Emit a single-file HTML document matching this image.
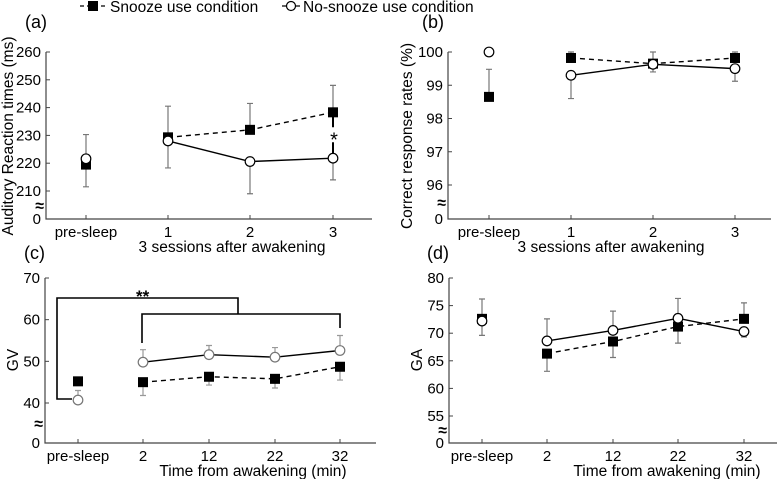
<!DOCTYPE html>
<html><head><meta charset="utf-8">
<style>
body{margin:0;background:#fff;}
svg{display:block;font-family:"Liberation Sans",Arial,sans-serif;}
</style></head>
<body>
<svg id="chart" width="778" height="479" viewBox="0 0 778 479" xmlns="http://www.w3.org/2000/svg">
<g>
  <line x1="80" y1="6" x2="106" y2="6" stroke="#000" stroke-width="1.3" stroke-dasharray="4,3"/>
  <rect x="88" y="1" width="10" height="10" fill="#000"/>
  <text x="110" y="12" font-size="15.5">Snooze use condition</text>
  <line x1="282" y1="6" x2="300" y2="6" stroke="#000" stroke-width="1.3"/>
  <circle cx="291" cy="6" r="4.5" fill="#fff" stroke="#000" stroke-width="1.2"/>
  <text x="303" y="12" font-size="15.5">No-snooze use condition</text>
</g>
</svg>
<script>
// ---- data ----
const catsAB = ['pre-sleep','1','2','3'];
const catsCD = ['pre-sleep','2','12','22','32'];
const aSnooze = [219.5,229.3,232.0,238.3];
const aSnoozeErr = [8,11.2,9.5,9.7];
const aOpen = [221.6,228.0,220.6,221.8];
const aOpenErr = [8.7,9.7,11.6,7.8];
const aTicks = [210,220,230,240,250,260];
const bSnooze = [98.65,99.82,99.65,99.82];
const bSnoozeErr = [0.83,0.18,0.25,0.18];
const bOpen = [100,99.3,99.63,99.5];
const bOpenErr = [0,0.7,0.37,0.38];
const bTicks = [96,97,98,99,100];
const cSnooze = [45.2,45.0,46.3,45.8,48.7];
const cSnoozeErr = [0,3.2,2.0,2.2,3.2];
const cOpen = [40.7,49.8,51.6,51.0,52.6];
const cOpenErr = [2.3,3.0,2.2,2.3,3.6];
const cTicks = [40,50,60,70];
const dSnooze = [72.6,66.3,68.5,71.2,72.6];
const dSnoozeErr = [3.6,3.2,2.9,3.0,2.9];
const dOpen = [72.2,68.6,70.5,72.7,70.3];
const dOpenErr = [2.6,4.0,3.5,3.6,1.0];
const dTicks = [55,60,65,70,75,80];

const NS='http://www.w3.org/2000/svg';
const svg=document.getElementById('chart');
function mk(tag,attrs,parent,txt){const e=document.createElementNS(NS,tag);for(const k in attrs)e.setAttribute(k,attrs[k]);if(txt!==undefined)e.textContent=txt;(parent||svg).appendChild(e);return e;}

function panel(p){
  const g=mk('g',{});
  
  
  const t0=p.ticks[0],t1=p.ticks[p.ticks.length-1];
  const y=v=>p.yTop+(t1-v)/(t1-t0)*(p.yLow-p.yTop);
  const x=i=>p.xs[i];
  const ax=mk('path',{d:`M${p.ax} ${p.yTop} V${p.yBot} H${p.axEnd}`,stroke:'#444',fill:'none','stroke-width':1.2},g);
  
  
  p.ticks.forEach(t=>{
    mk('line',{x1:p.ax,x2:p.ax+4,y1:y(t),y2:y(t),stroke:'#444'},g);
    const tl=mk('text',{x:p.ax-5,y:y(t)+5,'font-size':15,'text-anchor':'end'},g,t);
    
    
  });
  const z=mk('text',{x:p.ax-5,y:p.yBot+5,'font-size':15,'text-anchor':'end'},g,'0');
  
  
  const br=mk('text',{x:p.ax-2,y:(p.yLow+p.yBot)/2+6,'font-size':16,'font-weight':'bold','text-anchor':'end'},g,'≈');
  
  
  p.cats.forEach((c,i)=>{
    mk('line',{x1:x(i),x2:x(i),y1:p.yBot,y2:p.yBot-4,stroke:'#444'},g);
    const tl=mk('text',{x:x(i),y:p.yBot+18,'font-size':15,'text-anchor':'middle'},g,c);
    
    
  });
  const xl=mk('text',{x:p.xlx,y:p.yBot+33,'font-size':15.5,'text-anchor':'middle'},g,p.xlabel);
  
  
  const ylx=p.ylx, yly=p.yly;
  const yl=mk('text',{x:ylx,y:yly,'font-size':15.5,'text-anchor':'middle',transform:`rotate(-90 ${ylx} ${yly})`},g,p.ylabel);
  
  
  const pl=mk('text',{x:p.plx,y:p.ply,'font-size':18},g,'('+p.id+')');
  
  
  const ec=p.errColor||'#777';
  [[p.s,p.se,p.sd],[p.o,p.oe,p.od]].forEach(([v,e,d])=>{
    v.forEach((val,i)=>{ if(!e[i])return;
      const end=val+d[i]*e[i];
      const eb=mk('path',{d:`M${x(i)} ${y(val)} V${y(end)} M${x(i)-3} ${y(end)} H${x(i)+3}`,stroke:ec,'stroke-width':1.2,fill:'none'},g);
      
      
    });
  });
  const pts=v=>v.slice(1).map((val,i)=>`${x(i+1)},${y(val)}`).join(' ');
  const sl=mk('polyline',{points:pts(p.s),fill:'none',stroke:'#000','stroke-width':1.4,'stroke-dasharray':'5,4'},g);
  
  
  const ol=mk('polyline',{points:pts(p.o),fill:'none',stroke:'#000','stroke-width':1.4},g);
  
  
  if(p.extra)p.extra(g,x,y);
  p.s.forEach((val,i)=>{
    const r=mk('rect',{x:x(i)-5,y:y(val)-5,width:10,height:10,fill:'#000'},g);
    
    
  });
  p.o.forEach((val,i)=>{
    const c=mk('circle',{cx:x(i),cy:y(val),r:4.8,fill:'#fff',stroke:p.circColor||'#000','stroke-width':1.2},g);
    
    
  });
}

panel({id:'a',cats:catsAB,xs:[86,168,250,333],ticks:aTicks,yTop:52,yLow:191,yBot:219,ax:46,axEnd:372,
  s:aSnooze,se:aSnoozeErr,sd:[-1,1,1,1],o:aOpen,oe:aOpenErr,od:[1,-1,-1,-1],
  xlabel:'3 sessions after awakening',xlx:232,ylabel:'Auditory Reaction times (ms)',ylx:13,yly:136,plx:25,ply:28,
  extra:(g,x,y)=>{
    const ym=(y(aSnooze[3])+y(aOpen[3]))/2;
    const l=mk('path',{d:`M${x(3)} ${y(aSnooze[3])} V${ym-8} M${x(3)} ${ym+7} V${y(aOpen[3])}`,stroke:'#000','stroke-width':2,fill:'none'},g);
    
    
    const s=mk('text',{x:x(3)+1,y:ym+11,'font-size':20,'text-anchor':'middle'},g,'*');
    
    
  }});
panel({id:'b',cats:catsAB,xs:[489,571,653,735],ticks:bTicks,yTop:52,yLow:185,yBot:219,ax:448,axEnd:771,
  s:bSnooze,se:bSnoozeErr,sd:[1,1,-1,1],o:bOpen,oe:bOpenErr,od:[1,-1,1,-1],
  xlabel:'3 sessions after awakening',xlx:611,ylabel:'Correct response rates (%)',ylx:412,yly:136,plx:422,ply:28});
panel({id:'c',cats:catsCD,xs:[78,143,209,275,340],ticks:cTicks,yTop:278,yLow:403,yBot:443,ax:45,axEnd:376,
  s:cSnooze,se:cSnoozeErr,sd:[-1,-1,-1,-1,-1],o:cOpen,oe:cOpenErr,od:[1,1,1,1,1],errColor:'#999',circColor:'#777',
  xlabel:'Time from awakening (min)',xlx:253,ylabel:'GV',ylx:18,yly:360,plx:24,ply:259,
  extra:(g)=>{
    const b=mk('path',{d:'M72 399 H57 V298 H238 V314 M142 343 V314 H340 V328',stroke:'#000','stroke-width':1.6,fill:'none'},g);
    
    
    const s=mk('text',{x:136,y:302,'font-size':17,'font-weight':'bold'},g,'**');
    
    
  }});
panel({id:'d',cats:catsCD,xs:[482,547,613,678,744],ticks:dTicks,yTop:278,yLow:416,yBot:443,ax:449,axEnd:777,
  s:dSnooze,se:dSnoozeErr,sd:[1,-1,-1,-1,1],o:dOpen,oe:dOpenErr,od:[-1,1,1,1,-1],
  xlabel:'Time from awakening (min)',xlx:667,ylabel:'GA',ylx:422,yly:360,plx:427,ply:259});
</script>
</body></html>
